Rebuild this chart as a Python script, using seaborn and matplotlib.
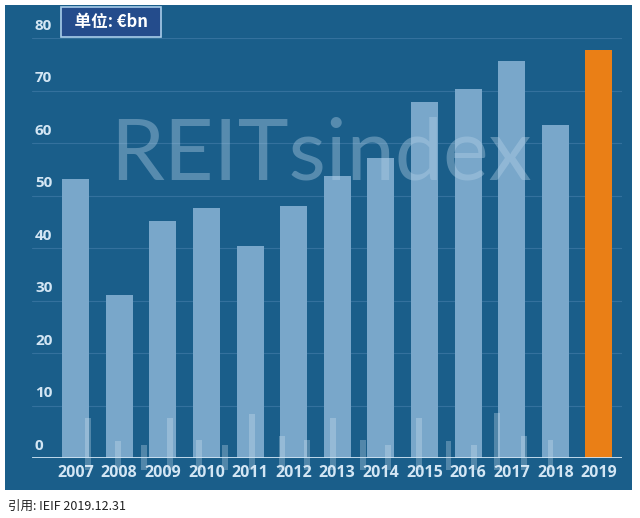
import matplotlib
matplotlib.use("Agg")
import matplotlib.pyplot as plt
import seaborn as sns
import pandas as pd
from matplotlib.patches import Rectangle

# data
years = ['2007', '2008', '2009', '2010', '2011', '2012', '2013',
         '2014', '2015', '2016', '2017', '2018', '2019']
volumes = [53.1, 31.0, 45.1, 47.6, 40.4, 48.0, 53.7,
           57.1, 67.8, 70.3, 75.6, 63.4, 77.7]
y_ticks = [0, 10, 20, 30, 40, 50, 60, 70, 80]

# faint decorative background bars (offset in category units, height)
deco_offsets = [0.29, 0.97, 1.57, 2.17, 2.83, 3.43, 4.05, 4.74, 5.31,
                5.91, 6.59, 7.17, 7.88, 8.55, 9.14, 9.67, 10.29, 10.89]
deco_heights = [7.6, 3.2, 2.5, 7.6, 3.4, 2.5, 8.4, 4.2, 3.4,
                7.6, 3.4, 2.5, 7.6, 3.2, 2.5, 8.5, 4.2, 3.4]

panel_blue = '#1a5e8a'
bar_blue = '#79a7ca'
orange = '#ea7f16'
label_col = '#d3e6f4'

sns.set_theme(style='white')
plt.rcParams['font.family'] = ['Noto Sans CJK SC', 'DejaVu Sans']

fig = plt.figure(figsize=(6.4, 5.18), dpi=100)
fig.patch.set_facecolor('white')
panel = Rectangle((5 / 640, 1 - 490 / 518), 627 / 640, 485 / 518,
                  transform=fig.transFigure, facecolor=panel_blue,
                  edgecolor='none', zorder=-5)
fig.add_artist(panel)

ax = fig.add_axes([32 / 640, (518 - 458) / 518, 590 / 640, 420 / 518])
ax.set_facecolor('none')
ax.set_zorder(2)

df = pd.DataFrame({'year': years, 'value': volumes})
colors = [bar_blue] * (len(years) - 1) + [orange]
sns.barplot(data=df, x='year', y='value', hue='year', palette=colors,
            legend=False, width=0.62, ax=ax, saturation=1, zorder=3,
            edgecolor='none', linewidth=0)

# decorative thin bars, poking slightly below the baseline
deco = ax.bar(deco_offsets, [h + 2.2 for h in deco_heights], bottom=-2.2,
              width=0.13, color='#d6e8f5', alpha=0.3, zorder=4,
              edgecolor='none', linewidth=0)
for b in deco:
    b.set_clip_on(False)

ax.set_ylim(0, 80)
ax.set_xlim(-1.0, len(years) - 0.47)
for t in y_ticks[1:]:
    ax.axhline(t, color='#4a82ad', lw=0.8, alpha=0.55, zorder=1)
ax.axhline(0, color='#cfe4f4', lw=2, zorder=5)

ax.set_yticks([])
for t in y_ticks:
    ax.text(0.005, t + 1.0, str(t), transform=ax.get_yaxis_transform(),
            color=label_col, fontsize=11, fontweight='bold',
            family='Open Sans', va='bottom', ha='left')

ax.set_xlabel('')
ax.set_ylabel('')
ax.tick_params(axis='x', length=0, pad=5, colors=label_col)
for lab in ax.get_xticklabels():
    lab.set_fontsize(11.5)
    lab.set_fontweight('bold')
    lab.set_family('Open Sans')
for s in ax.spines.values():
    s.set_visible(False)

# watermark
ax.text(0.49, 1 - 118 / 420, 'REITsindex', transform=ax.transAxes,
        color='#b3d0e6', alpha=0.4, fontsize=62, family='Lato',
        ha='center', va='center', zorder=6)

# unit box
fig.text(67 / 640, 1 - 22 / 518, '  单位: €bn  ', color='white', fontsize=12,
         fontweight='bold', va='center', ha='left', zorder=10,
         bbox=dict(boxstyle='square,pad=0.35', facecolor='#244c8c',
                   edgecolor='#a9cdea', lw=1.2))

fig.text(8 / 640, 1 - 506 / 518, '引用: IEIF 2019.12.31', color='#222222',
         fontsize=9, va='center', ha='left')

fig.savefig('out.png', dpi=100, facecolor=fig.get_facecolor())
